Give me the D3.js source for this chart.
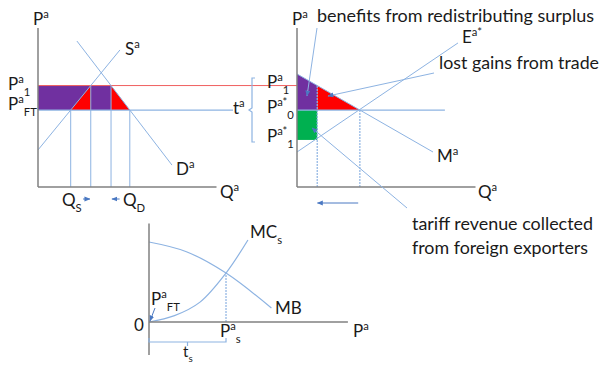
<!DOCTYPE html>
<html>
<head>
<meta charset="utf-8">
<script src="https://cdn.jsdelivr.net/npm/d3@7"></script>
<style>
  body { margin: 0; background: #fff; }
  text { font-family: Lato, 'Noto Sans', sans-serif; fill: #1a1a1a; }
</style>
</head>
<body>
<svg id="chart" width="603" height="365"></svg>
<script>
// left panel: home market for the good (price levels and curves)
const leftPrices = { p1: 6.38, pFT: 4.84 };
const supplyA = [[0, 2.33], [4.82, 8.62]];
const demandA = [[2.29, 9.18], [7.88, 1.38]];

// right panel: import market
const rightPrices = { p1: 6.38, p0: 4.84, p1s: 2.96 };
const importDemand = [[0, 7.11], [8.0, 2.2]];
const exportSupply = [[0, 2.2], [9.47, 9.06]];

// bottom panel: MB and MC of the tariff
const mbCurve = [[0, 5.03], [2.2, 4.42], [4.53, 3.08], [7.2, 0.88]];
const mcCurve = [[0, 0], [1.5, 0.4], [3.0, 1.25], [4.53, 3.08], [5.82, 5.16]];
const pS = 4.53;

// annotation texts
const notes = [
  { text: 'benefits from redistributing surplus', x: 317, y: 22, w: 277 },
  { text: 'lost gains from trade', x: 439, y: 69, w: 160 },
  { text: 'tariff revenue collected', x: 412, y: 230, w: 181 },
  { text: 'from foreign exporters', x: 412, y: 254, w: 176 }
];

const svg = d3.select('#chart');

const BLUE = '#8db3e2', AXIS = '#808080', ARROW = '#4a78c2';
const PURPLE = '#7030a0', RED = '#ff0000', GREEN = '#00b050';

// scales for each panel
const xL = d3.scaleLinear().domain([0, 10]).range([38, 208]);
const yL = d3.scaleLinear().domain([0, 10]).range([187, 28]);
const xR = d3.scaleLinear().domain([0, 10]).range([297, 467]);
const yR = d3.scaleLinear().domain([0, 10]).range([187, 28]);
const xB = d3.scaleLinear().domain([0, 10]).range([149, 319]);
const yB = d3.scaleLinear().domain([0, 10]).range([322, 163]);

// quantity where a straight line reaches price p
const qAt = (ln, p) => {
  const [[x0, y0], [x1, y1]] = ln;
  return x0 + (p - y0) * (x1 - x0) / (y1 - y0);
};
const pAt = (ln, q) => {
  const [[x0, y0], [x1, y1]] = ln;
  return y0 + (q - x0) * (y1 - y0) / (x1 - x0);
};

// arrow marker
svg.append('defs').append('marker')
  .attr('id', 'arr').attr('viewBox', '0 0 10 10').attr('refX', 9).attr('refY', 5)
  .attr('markerWidth', 6).attr('markerHeight', 6).attr('orient', 'auto-start-reverse')
  .append('path').attr('d', 'M0,1 L10,5 L0,9 z').attr('fill', ARROW);

const poly = (g, pts, x, y, fill) => g.append('polygon')
  .attr('points', pts.map(d => [x(d[0]), y(d[1])].join(',')).join(' '))
  .attr('fill', fill);

const seg = (g, x1, y1, x2, y2, color, w = 1, dash = null) => g.append('line')
  .attr('x1', x1).attr('y1', y1).attr('x2', x2).attr('y2', y2)
  .attr('stroke', color).attr('stroke-width', w).attr('stroke-dasharray', dash);

function label(x, y, parts, size = 17) {
  const t = svg.append('text').attr('x', x).attr('y', y).style('font-size', size + 'px');
  parts.forEach(([s, kind]) => {
    const ts = t.append('tspan').text(s);
    if (kind === 'sup') ts.attr('y', y - size * 0.42).style('font-size', (size * 0.66) + 'px');
    else if (kind === 'sub') ts.attr('y', y + size * 0.36).style('font-size', (size * 0.66) + 'px');
    else ts.attr('y', y);
  });
  return t;
}

// ---------------- left panel ----------------
const gl = svg.append('g');
const { p1, pFT } = leftPrices;
const qS = qAt(supplyA, pFT), qS1 = qAt(supplyA, p1);
const qD1 = qAt(demandA, p1), qD = qAt(demandA, pFT);

poly(gl, [[0, pFT], [0, p1], [qD1, p1], [qD1, pFT]], xL, yL, PURPLE);
poly(gl, [[qS, pFT], [qS1, p1], [qS1, pFT]], xL, yL, RED);
poly(gl, [[qD1, p1], [qD1, pFT], [qD, pFT]], xL, yL, RED);

[[qS, pFT], [qS1, p1], [qD1, p1], [qD, pFT]].forEach(([q, p]) =>
  seg(gl, xL(q), yL(0), xL(q), yL(p), BLUE, 1));

seg(gl, xL(0), yL(p1), xR(0), yL(p1), '#f06060', 1);
seg(gl, xL(0), yL(pFT), xR(0) - 64, yL(pFT), BLUE, 1.2);

seg(gl, xL(supplyA[0][0]), yL(supplyA[0][1]), xL(supplyA[1][0]), yL(supplyA[1][1]), BLUE, 1);
seg(gl, xL(demandA[0][0]), yL(demandA[0][1]), xL(demandA[1][0]), yL(demandA[1][1]), BLUE, 1);

seg(gl, xL(0), yL(0), xL(0), yL(10), AXIS, 1.5);
seg(gl, xL(0), yL(0), xL(10.5), yL(0), AXIS, 1.5);

// small arrows below the axis
seg(gl, xL(2.65), 199, xL(3.05), 199, ARROW, 1).attr('marker-end', 'url(#arr)');
seg(gl, xL(4.8), 199, xL(4.35), 199, ARROW, 1).attr('marker-end', 'url(#arr)');

label(33, 25, [['P'], ['a', 'sup']]);
label(8, 90, [['P'], ['a', 'sup'], ['1', 'sub']]);
label(8, 110, [['P'], ['a', 'sup'], ['FT', 'sub']]);
label(125, 55, [['S'], ['a', 'sup']]);
label(176, 175, [['D'], ['a', 'sup']]);
label(62, 206, [['Q'], ['S', 'sub']]);
label(123, 206, [['Q'], ['D', 'sub']]);
label(220, 198, [['Q'], ['a', 'sup']]);

// ---------------- right panel ----------------
const gr = svg.append('g');
const rp = rightPrices;
const q1 = qAt(importDemand, rp.p1), q0 = qAt(importDemand, rp.p0);

poly(gr, [[0, pAt(importDemand, 0)], [q1, rp.p1], [q1, rp.p0], [0, rp.p0]], xR, yR, PURPLE);
poly(gr, [[q1, rp.p1], [q1, rp.p0], [q0, rp.p0]], xR, yR, RED);
poly(gr, [[0, rp.p1s], [q1, rp.p1s], [q1, rp.p0], [0, rp.p0]], xR, yR, GREEN);

seg(gr, xR(q1), yR(0), xR(q1), yR(rp.p1), BLUE, 1.2, '2,1');
seg(gr, xR(q0), yR(0), xR(q0), yR(rp.p0), BLUE, 1.2, '2,1');
seg(gr, xR(0), yR(rp.p0), xR(8.7), yR(rp.p0), BLUE, 1.2);

seg(gr, xR(importDemand[0][0]), yR(importDemand[0][1]), xR(importDemand[1][0]), yR(importDemand[1][1]), BLUE, 1);
seg(gr, xR(exportSupply[0][0]), yR(exportSupply[0][1]), xR(exportSupply[1][0]), yR(exportSupply[1][1]), BLUE, 1);

seg(gr, xR(0), yR(0), xR(0), yR(10), AXIS, 1.5);
seg(gr, xR(0), yR(0), xR(10.5), yR(0), AXIS, 1.5);

// bracket for the tariff
gr.append('path')
  .attr('d', `M255,78 L252,78 L252,108 L249,110 L252,112 L252,142 L255,142`)
  .attr('fill', 'none').attr('stroke', BLUE).attr('stroke-width', 1.2);

// annotation pointers
seg(gr, 317, 28, 307, 96, BLUE, 1).attr('marker-end', 'url(#arr)');
seg(gr, 434, 73, 328, 96, BLUE, 1).attr('marker-end', 'url(#arr)');
seg(gr, 407, 208, 312, 128, BLUE, 1).attr('marker-end', 'url(#arr)');
seg(gr, xR(3.6), 203, xR(1.2), 203, ARROW, 1).attr('marker-end', 'url(#arr)');

label(292, 25, [['P'], ['a', 'sup']]);
label(267, 88, [['P'], ['a', 'sup'], ['1', 'sub']]);
label(267, 113, [['P'], ['a*', 'sup'], ['0', 'sub']]);
label(267, 142, [['P'], ['a*', 'sup'], ['1', 'sub']]);
label(233, 114, [['t'], ['a', 'sup']]);
label(462, 43, [['E'], ['a*', 'sup']]);
label(437, 162, [['M'], ['a', 'sup']]);
label(478, 198, [['Q'], ['a', 'sup']]);

notes.forEach(n => label(n.x, n.y, [[n.text]], 18)
  .attr('textLength', n.w).attr('lengthAdjust', 'spacingAndGlyphs'));

// ---------------- bottom panel ----------------
const gb = svg.append('g');
const line = d3.line().x(d => xB(d[0])).y(d => yB(d[1])).curve(d3.curveCatmullRom);

gb.append('path').datum(mbCurve).attr('d', line).attr('fill', 'none').attr('stroke', BLUE).attr('stroke-width', 1.2);
gb.append('path').datum(mcCurve).attr('d', line).attr('fill', 'none').attr('stroke', BLUE).attr('stroke-width', 1.2);
seg(gb, xB(pS), yB(0), xB(pS), yB(3.08), BLUE, 1.2, '2,1');

seg(gb, xB(0), yB(6.2), xB(0), 355, AXIS, 1.5);
seg(gb, xB(0), yB(0), xB(11.7), yB(0), AXIS, 1.5);

gb.append('path')
  .attr('d', `M${xB(0)},338 L${xB(0)},342 L${xB(pS)},342 L${xB(pS)},338 M${(xB(0) + xB(pS)) / 2},342 L${(xB(0) + xB(pS)) / 2},346`)
  .attr('fill', 'none').attr('stroke', BLUE).attr('stroke-width', 1.2);
seg(gb, 155, 308, xB(0) + 1, yB(0) - 1, ARROW, 1).attr('marker-end', 'url(#arr)');

label(250, 238, [['MC'], ['s', 'sub']]);
label(275, 314, [['MB']]);
label(134, 331, [['0']]);
label(151, 305, [['P'], ['a', 'sup'], ['FT', 'sub']]);
label(220, 337, [['P'], ['a', 'sup'], ['s', 'sub']]);
label(353, 337, [['P'], ['a', 'sup']]);
label(183, 357, [['t'], ['s', 'sub']], 15);
</script>
</body>
</html>
